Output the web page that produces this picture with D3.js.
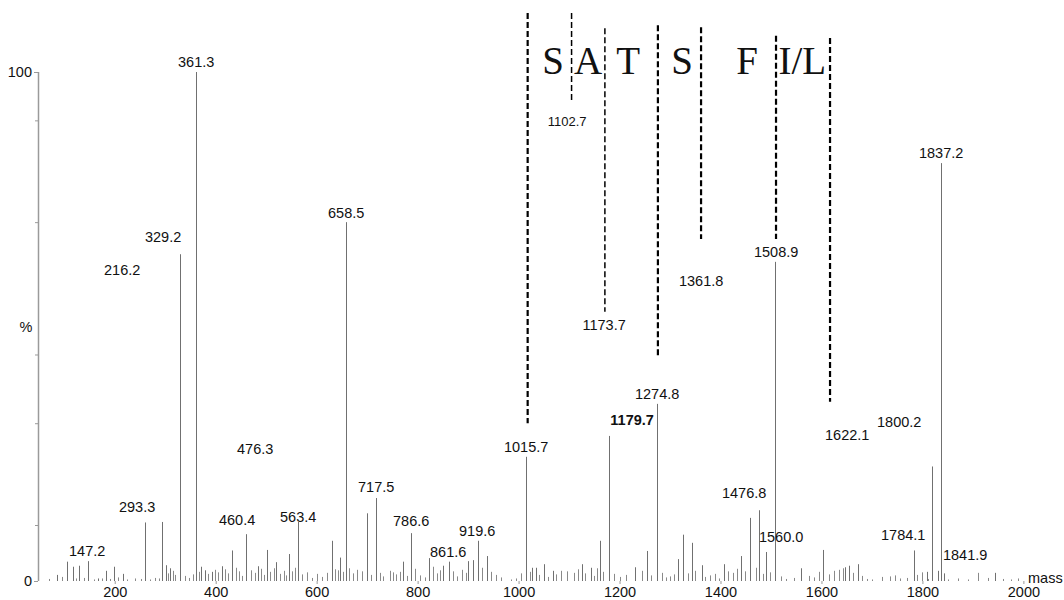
<!DOCTYPE html>
<html><head><meta charset="utf-8">
<script src="https://cdn.jsdelivr.net/npm/d3@7/dist/d3.min.js"></script>
<style>
body{margin:0;background:#fff;}
svg{display:block;font-family:"Liberation Sans",Arial,sans-serif;}
</style></head>
<body><svg id="c" width="1064" height="600"></svg>
<script>
// ---- data ----
const peakMass = [85.3,105.1,117.0,130.1,147.2,167.7,183,199.4,216.1,260.3,293.3,301.3,309.8,329.2,361.3,370.6,379.1,392.4,412.2,432,460.4,484.7,501.3,519.8,546.1,563.4,630.1,646.6,658.5,699.5,717.5,770.8,786.6,822.9,851.2,861.6,900.8,910.6,919.6,937.2,1015.7,1026.3,1034.8,1051.3,1067.9,1124.8,1142.8,1161.6,1179.7,1231,1255.3,1274.8,1316.7,1325.5,1343.3,1363.1,1407.9,1441,1458.8,1476.8,1491.1,1508.9,1560.0,1604,1647,1655,1671.7,1784.1,1808.9,1818.8,1829.9,1837.2,1841.9,1944];
const peakInt  = [1.2,3.8,2.8,3.0,3.9,0.5,2.0,2.8,1.4,11.5,11.6,3.1,2.5,64.2,100,2.8,2.1,1.8,2.9,6.0,9.2,2.9,6.1,3.7,5.3,11.6,7.9,4.6,70.5,13.3,16.3,3.8,9.4,4.5,3.0,3.8,3.9,4.1,7.9,4.9,24.4,2.6,2.6,3.3,2.0,3.3,2.6,7.9,28.5,2.7,5.9,34.8,4.3,9.1,7.5,3.1,3.3,4.9,12.4,13.9,5.7,62.7,2.5,6.1,2.7,3.0,3.3,6.0,1.8,22.5,2.0,82.1,1.5,1.6];
const noiseMass = [
  70,95,124,140,158,175,190,207,225,240,
  252,270,280,287,305,315,320,340,347,355,
  366,385,398,405,418,425,440,447,452,470,
  478,490,495,508,515,528,535,540,552,558,
  570,580,590,600,610,620,637,642,652,665,
  672,680,690,708,725,732,745,752,758,765,
  778,795,805,815,830,838,845,870,878,888,
  895,928,945,955,965,985,995,1005,1022,1040,
  1058,1075,1085,1095,1110,1118,1132,1150,1155,1168,
  1190,1200,1212,1245,1262,1285,1292,1300,1308,1335,
  1350,1370,1380,1390,1398,1415,1425,1432,1448,1470,
  1485,1498,1520,1530,1545,1575,1585,1595,1615,1625,
  1635,1642,1662,1680,1690,1700,1720,1735,1745,1755,
  1770,1790,1800,1812,1850,1870,1890,1910,1930,1960,
  1975,1990];
const noiseInt = [
  0.4,0.8,0.5,0.6,0.3,0.5,0.4,0.7,0.3,0.5,
  0.4,0.3,0.6,0.5,1.5,2.0,1.2,1.0,0.6,1.3,
  1.8,1.4,2.2,1.7,2.3,1.5,2.6,1.9,1.0,2.1,
  1.6,2.4,1.2,1.8,2.5,1.4,2.0,1.1,1.9,2.6,
  1.3,1.7,0.6,1.4,0.8,1.6,2.3,2.1,1.8,2.5,
  1.5,2.2,1.9,1.2,1.6,0.9,2.0,1.7,1.3,1.8,
  1.0,2.4,1.1,0.7,2.8,1.5,2.1,1.9,0.9,2.2,
  1.6,2.6,1.8,1.2,0.7,0.3,0.5,1.5,1.8,1.2,
  0.8,1.3,2.0,1.9,1.6,2.3,1.5,1.0,2.5,1.8,
  1.4,0.8,1.2,2.0,1.1,1.6,0.7,0.9,1.3,1.5,
  2.0,0.8,1.1,1.4,0.5,1.9,1.6,2.4,1.9,2.6,
  1.4,1.7,0.9,0.4,0.6,1.0,0.7,1.8,1.3,2.0,
  2.2,2.5,1.6,1.0,0.4,0.3,0.8,0.9,1.1,0.5,
  0.6,1.2,1.7,0.4,0.3,0.5,0.3,1.6,0.6,0.4,
  0.3,0.5];

const labelText  = ["147.2","216.2","293.3","329.2","361.3","460.4","476.3","563.4","658.5","717.5","786.6","861.6","919.6","1015.7","1102.7","1173.7","1179.7","1274.8","1361.8","1476.8","1508.9","1560.0","1622.1","1784.1","1800.2","1837.2","1841.9"];
const labelMass  = [145.4,214.7,244.4,295.9,361.3,442.5,478.2,563.4,658.5,717.9,787.2,860.5,918,1015,1096.2,1169.5,1225,1274.5,1361.7,1446.9,1510.3,1520.2,1651,1761.9,1754,1837.1,1884.7];
const labelLevel = [5.9,61.1,14.5,67.6,102.0,12.0,25.9,12.6,72.3,18.5,11.8,5.6,9.8,26.3,90.2,50.3,31.6,36.7,58.9,17.3,64.6,8.6,28.7,9.0,31.2,84.1,5.1];

const cutMass   = [1018,1105,1171,1276,1361.5,1510,1617];
const cutTop    = [111.6,111.6,108.6,109.2,108.8,107.1,106.7];
const cutBottom = [31.0,94.5,52.9,43.8,67.2,67.2,35.2];

const residues    = ["S","A","T","S","F","I/L"];
const residueMass = [1068.5,1137.8,1217.1,1324.1,1452.9,1561.9];
const residueLevel = 99.6;

const xTicks = [200,400,600,800,1000,1200,1400,1600,1800,2000];
const yMinorTicks = [11,31,44.5,70.5,90.5];

// ---- chart ----
const svg = d3.select("#c");
const x = d3.scaleLinear().domain([48, 2005]).range([38, 1025.9]);
const y = d3.scaleLinear().domain([0, 100]).range([581, 72]);

// noise peaks
const n = Math.min(noiseMass.length, noiseInt.length);
svg.append("g").selectAll("line").data(noiseMass.slice(0,n).map((m,i)=>({m, v:noiseInt[i]})))
  .join("line")
  .attr("x1", d=>Math.round(x(d.m))+0.5).attr("x2", d=>Math.round(x(d.m))+0.5)
  .attr("y1", y(0)).attr("y2", d=>y(d.v))
  .attr("stroke", "#8a8a8a").attr("stroke-width", 1);

// main peaks
svg.append("g").selectAll("line").data(peakMass.map((m,i)=>({m, v:peakInt[i]})))
  .join("line")
  .attr("x1", d=>Math.round(x(d.m))+0.5).attr("x2", d=>Math.round(x(d.m))+0.5)
  .attr("y1", y(0)).attr("y2", d=>y(d.v))
  .attr("stroke", "#707070").attr("stroke-width", 1);

// y axis
const yAxis = svg.append("g").attr("transform", "translate(38,0)")
  .call(d3.axisLeft(y).tickValues([0,100]).tickSize(4).tickPadding(2).tickFormat(d3.format("d")));
yAxis.select(".domain").attr("stroke", "#9a9a9a").attr("stroke-width", 1.5).attr("d", `M0.5,${y(100)}V${y(0)}`);
yAxis.selectAll(".tick line").attr("stroke", "#9a9a9a");
yAxis.selectAll(".tick text").attr("font-size", "14.5px").attr("fill", "#111").attr("font-family", "Liberation Sans, Arial");
svg.append("g").attr("transform", "translate(38,0)")
  .call(d3.axisLeft(y).tickValues(yMinorTicks).tickSize(3).tickFormat(""))
  .call(g=>g.select(".domain").remove())
  .selectAll(".tick line").attr("stroke", "#9a9a9a");

svg.append("text").attr("x", 26).attr("y", y(50)).attr("text-anchor","middle")
  .attr("dominant-baseline","central").attr("font-size","14.5px").attr("fill","#111").text("%");

// x axis
const xAxis = svg.append("g").attr("transform", `translate(0,${y(0)})`)
  .call(d3.axisBottom(x).tickValues(xTicks).tickSize(3).tickPadding(3).tickFormat(d3.format("d")));
xAxis.select(".domain").remove();
xAxis.selectAll(".tick line").attr("stroke", "#9a9a9a");
xAxis.selectAll(".tick text").attr("font-size", "14.5px").attr("fill", "#111").attr("font-family", "Liberation Sans, Arial");
svg.append("text").attr("x", 1028).attr("y", 578).attr("dominant-baseline","central")
  .attr("font-size","14.5px").attr("fill","#111").text("mass");

// peak labels
svg.append("g").selectAll("text").data(labelText.map((t,i)=>({t, m:labelMass[i], v:labelLevel[i]})))
  .join("text")
  .attr("x", d=>x(d.m)).attr("y", d=>y(d.v))
  .attr("text-anchor","middle").attr("dominant-baseline","central")
  .attr("font-size", d=>d.t==="1102.7" ? "13px" : "14.5px")
  .attr("font-weight", d=>d.t==="1179.7" ? "bold" : "normal")
  .attr("fill","#111").text(d=>d.t);

// dashed cut lines
svg.append("g").selectAll("line").data(cutMass.map((m,i)=>({m, t:cutTop[i], b:cutBottom[i], i})))
  .join("line")
  .attr("x1", d=>x(d.m)).attr("x2", d=>x(d.m))
  .attr("y1", d=>y(d.t)).attr("y2", d=>y(d.b))
  .attr("stroke","#000")
  .attr("stroke-width", d=>(d.i===1||d.i===2) ? 1.5 : 2.2)
  .attr("stroke-dasharray","6,3");

// residue letters
svg.append("g").selectAll("text").data(residues.map((r,i)=>({r, m:residueMass[i]})))
  .join("text")
  .attr("x", d=>x(d.m)).attr("y", y(residueLevel))
  .attr("text-anchor","middle")
  .attr("font-family","Liberation Serif, Times New Roman, serif")
  .attr("font-size","39px").attr("fill","#111").text(d=>d.r);
</script></body></html>
